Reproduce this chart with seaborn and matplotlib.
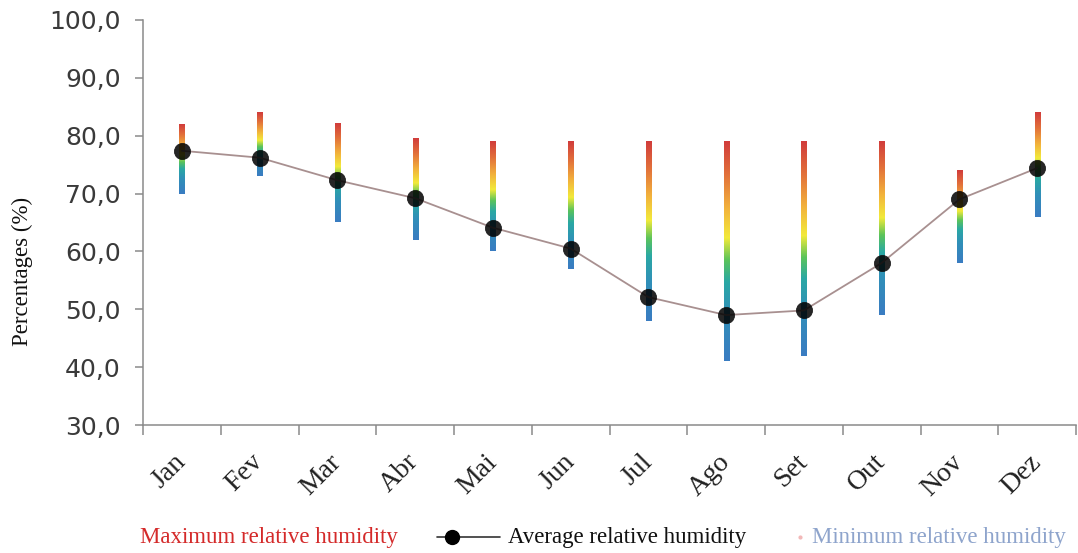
import numpy as np
import pandas as pd
import matplotlib
matplotlib.use("Agg")
import matplotlib.pyplot as plt
import seaborn as sns
from matplotlib.colors import LinearSegmentedColormap
from matplotlib.lines import Line2D
from matplotlib.ticker import FixedLocator, FuncFormatter

# Monthly relative humidity (%)
months = ["Jan", "Fev", "Mar", "Abr", "Mai", "Jun", "Jul", "Ago", "Set", "Out", "Nov", "Dez"]
hum_max = [82.0, 84.0, 82.0, 79.5, 79.0, 79.0, 79.0, 79.0, 79.0, 79.0, 74.0, 84.0]
hum_avg = [77.4, 76.2, 72.3, 69.2, 64.1, 60.5, 52.1, 49.0, 49.8, 58.0, 69.0, 74.4]
hum_min = [70.0, 73.0, 65.0, 62.0, 60.0, 57.0, 48.0, 41.0, 42.0, 49.0, 58.0, 66.0]

y_ticks = [30, 40, 50, 60, 70, 80, 90, 100]

df = pd.DataFrame({"month": months, "avg": hum_avg, "max": hum_max, "min": hum_min})

sns.set_style("white")
plt.rcParams["font.family"] = ["DejaVu Sans"]

fig = plt.figure(figsize=(10.78, 5.53), dpi=100)
ax = fig.add_axes([143 / 1078, 1 - 425 / 553, (1076 - 143) / 1078, (425 - 20) / 553])

# rainbow ramp from the minimum (bottom) to the maximum (top) of each bar
ramp = LinearSegmentedColormap.from_list(
    "humidity_ramp",
    [(0.00, "#3a7cc2"), (0.22, "#3090b8"), (0.36, "#2aa8a4"), (0.46, "#5cc45a"),
     (0.56, "#f2ea3a"), (0.70, "#f2b03c"), (0.85, "#e2703a"), (1.00, "#d13c3c")],
)

# each range bar is a vertical gradient image spanning min..max of its month
half_w = 0.033
grad = np.linspace(0, 1, 256).reshape(-1, 1)
for i, (lo, hi) in enumerate(zip(hum_min, hum_max)):
    ax.imshow(grad, cmap=ramp, origin="lower", aspect="auto",
              extent=[i - half_w, i + half_w, lo, hi], interpolation="bilinear", zorder=2)

# mean humidity line
sns.lineplot(data=df, x="month", y="avg", ax=ax, color="#a89090", linewidth=1.3,
             sort=False, zorder=3)
sns.scatterplot(data=df, x="month", y="avg", ax=ax, color="black", s=135,
                edgecolor="#101010", linewidth=0.6, alpha=0.85, zorder=4, legend=False)

ax.set_xlim(-0.5, 11.5)
ax.set_ylim(30, 100)

# y axis
ax.yaxis.set_major_locator(FixedLocator(y_ticks))
ax.yaxis.set_major_formatter(FuncFormatter(lambda v, p: f"{v:.1f}".replace(".", ",")))
ax.tick_params(axis="y", which="major", direction="out", length=6, width=1.1,
               color="#8a8a8a", labelsize=18, labelcolor="#3a3a3a", pad=10, left=True)
ax.set_ylabel("Percentages (%)", family="Liberation Serif", fontsize=16.5, color="#111111")
ax.yaxis.set_label_coords(-0.118, 0.378)

# x axis: tick marks between months, labels centred on months
ax.xaxis.set_major_locator(FixedLocator(np.arange(-0.5, 12, 1.0)))
ax.xaxis.set_major_formatter(FuncFormatter(lambda v, p: ""))
ax.set_xticks(np.arange(12), labels=months, minor=True)
ax.tick_params(axis="x", which="major", direction="out", length=7, width=1.1,
               color="#8a8a8a", bottom=True)
ax.tick_params(axis="x", which="minor", length=0, pad=24, bottom=True)
for lab in ax.get_xticklabels(minor=True):
    lab.set_rotation(45)
    lab.set_ha("right")
    lab.set_va("center")
    lab.set_rotation_mode("anchor")
    lab.set_family("Liberation Serif")
    lab.set_fontsize(20)
    lab.set_color("#222222")
ax.set_xlabel("")

for side in ("top", "right"):
    ax.spines[side].set_visible(False)
for side in ("left", "bottom"):
    ax.spines[side].set_color("#8a8a8a")
    ax.spines[side].set_linewidth(1.1)

# legend row beneath the axes
ly = 1 - 537 / 553
fig.text(140 / 1078, ly, "Maximum relative humidity", color="#d42a2a",
         family="Liberation Serif", fontsize=16.5, va="center", ha="left")
fig.add_artist(Line2D([437 / 1078, 500 / 1078], [ly, ly], transform=fig.transFigure,
                      color="#333333", linewidth=1.2))
fig.add_artist(Line2D([452 / 1078], [ly], transform=fig.transFigure, marker="o",
                      markersize=10, color="black", linestyle="none"))
fig.text(508 / 1078, ly, "Average relative humidity", color="#111111",
         family="Liberation Serif", fontsize=16.5, va="center", ha="left")
fig.add_artist(Line2D([800 / 1078], [ly], transform=fig.transFigure, marker="o",
                      markersize=2, color="#f2b8b8", linestyle="none"))
fig.text(812 / 1078, ly, "Minimum relative humidity", color="#8ea4cc",
         family="Liberation Serif", fontsize=16.5, va="center", ha="left")

fig.savefig("out.png", dpi=100, facecolor="white")
